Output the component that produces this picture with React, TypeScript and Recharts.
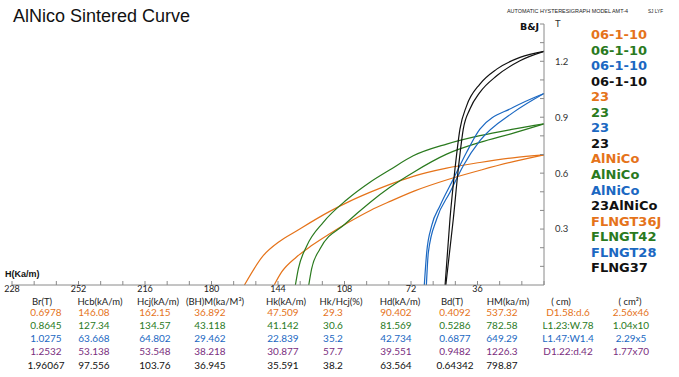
import React from 'react'
import { LineChart, Line, XAxis, YAxis } from 'recharts'

const orange = '#E5731A'
const green = '#2A7A1E'
const blue = '#1B68C2'
const purple = '#7A2E7E'
const black = '#111111'

// demag curves, [H kA/m, B T]
const orangeJ = [[162.15, 0], [152, 0.157], [143, 0.235], [134, 0.29], [116, 0.395], [105, 0.45], [94, 0.498], [83.4, 0.54], [70.8, 0.583], [52.7, 0.627], [34.7, 0.657], [16.8, 0.682], [0, 0.6978]]
const orangeB = [[146.08, 0], [142, 0.07], [134, 0.15], [126, 0.21], [116, 0.275], [106, 0.335], [94, 0.4], [83, 0.45], [70, 0.505], [52, 0.566], [34, 0.617], [16, 0.663], [0, 0.6978]]
const greenJ = [[134.57, 0], [133, 0.086], [128.5, 0.208], [119.5, 0.336], [106.8, 0.457], [94.2, 0.551], [83.4, 0.618], [70.8, 0.693], [52.7, 0.756], [34.7, 0.801], [16.6, 0.836], [0, 0.8645]]
const greenB = [[127.34, 0], [125.8, 0.086], [121.3, 0.193], [107.7, 0.327], [94.2, 0.443], [83.4, 0.524], [70.8, 0.604], [52.7, 0.702], [34.7, 0.765], [16.6, 0.815], [0, 0.8645]]
const blueJ = [[64.8, 0], [63.5, 0.175], [60.8, 0.318], [56.3, 0.425], [49.1, 0.568], [41.9, 0.712], [34.7, 0.836], [16.6, 0.953], [0, 1.0275]]
const blueB = [[63.668, 0], [62.6, 0.175], [58.1, 0.354], [50.9, 0.497], [43.7, 0.64], [34.7, 0.774], [16.6, 0.926], [0, 1.0275]]
const blackJ = [[53.548, 0], [50.9, 0.354], [48.2, 0.622], [45.5, 0.836], [41.9, 0.961], [34.7, 1.078], [25.6, 1.158], [13, 1.221], [0, 1.2532]]
const blackB = [[53.138, 0], [49.1, 0.354], [46.4, 0.622], [43.7, 0.836], [40.1, 0.944], [34.7, 1.033], [25.6, 1.122], [13, 1.203], [0, 1.2532]]

const curves = [
  { name: 'orangeJ', pts: orangeJ, color: orange },
  { name: 'orangeB', pts: orangeB, color: orange },
  { name: 'greenJ', pts: greenJ, color: green },
  { name: 'greenB', pts: greenB, color: green },
  { name: 'blueJ', pts: blueJ, color: blue },
  { name: 'blueB', pts: blueB, color: blue },
  { name: 'blackJ', pts: blackJ, color: black },
  { name: 'blackB', pts: blackB, color: black },
]

const xTicks = [0, 12, 24, 36, 48, 60, 72, 84, 96, 108, 120, 132, 144, 156, 168, 180, 192, 204, 216, 228, 240, 252, 264, 276, 288]
const yTicks = [0.1, 0.2, 0.3, 0.4, 0.5, 0.6, 0.7, 0.8, 0.9, 1.0, 1.1, 1.2, 1.3, 1.4]

const legendNames = ['06-1-10', '06-1-10', '06-1-10', '06-1-10', '23', '23', '23', '23', 'AlNiCo', 'AlNiCo', 'AlNiCo', '23AlNiCo', 'FLNGT36J', 'FLNGT42', 'FLNGT28', 'FLNG37']
const legendColors = [orange, green, blue, black]

const headers = ['Br(T)', 'Hcb(kA/m)', 'Hcj(kA/m)', '(BH)M(ka/M³)', 'Hk(kA/m)', 'Hk/Hcj(%)', 'Hd(kA/m)', 'Bd(T)', 'HM(ka/m)', '( cm)', '( cm²)']
const row1 = ['0.6978', '146.08', '162.15', '36.892', '47.509', '29.3', '90.402', '0.4092', '537.32', 'D1.58:d.6', '2.56x46']
const row2 = ['0.8645', '127.34', '134.57', '43.118', '41.142', '30.6', '81.569', '0.5286', '782.58', 'L1.23:W.78', '1.04x10']
const row3 = ['1.0275', '63.668', '64.802', '29.462', '22.839', '35.2', '42.734', '0.6877', '649.29', 'L1.47:W1.4', '2.29x5']
const row4 = ['1.2532', '53.138', '53.548', '38.218', '30.877', '57.7', '39.551', '0.9482', '1226.3', 'D1.22:d.42', '1.77x70']
const row5 = ['1.96067', '97.556', '103.76', '36.945', '35.591', '38.2', '63.564', '0.64342', '798.87', '', '']
const rows = [row1, row2, row3, row4, row5]
const rowColors = [orange, green, blue, purple, black]

const headerX = [42, 100, 158, 215, 286, 341, 400, 452, 508, 561, 630]
const colX = [46, 94, 155, 210, 283, 333, 396, 455, 502, 568, 631]

const fmtX = (v: number) => {
  if (v === 0 || v % 36 !== 0) return ''
  if (v === 288) return '228'
  return String(v)
}
const fmtY = (v: number) => {
  const r = Math.round(v * 10)
  if (r === 14) return 'T'
  if (r % 3 === 0) return v.toFixed(1)
  return ''
}

const axisGray = '#8a8a8a'
const tableFont = 'Lato, "Open Sans", sans-serif'

export default function App() {
  return (
    <div style={{ position: 'absolute', left: 0, top: 0, width: 679, height: 377, background: '#fff' }}>
      <LineChart width={679} height={377} margin={{ top: 24, right: 0, left: 12, bottom: 0 }}>
        <XAxis
          type="number"
          dataKey="h"
          domain={[0, 288]}
          reversed
          ticks={xTicks}
          interval={0}
          tickFormatter={fmtX}
          height={92}
          tickSize={-4}
          tickMargin={5}
          stroke={axisGray}
          tick={{ fill: '#222', fontSize: 9, fontFamily: tableFont }}
        />
        <YAxis
          type="number"
          orientation="right"
          domain={[0, 1.4]}
          ticks={yTicks}
          interval={0}
          tickFormatter={fmtY}
          width={135}
          tickSize={-4}
          tickMargin={15}
          stroke={axisGray}
          tick={{ fill: '#333', fontSize: 9.5, fontFamily: tableFont }}
        />
        {curves.map((c) => (
          <Line
            key={c.name}
            data={c.pts.map(([h, b]) => ({ h, b }))}
            dataKey="b"
            type="monotone"
            stroke={c.color}
            strokeWidth={1.2}
            dot={false}
            isAnimationActive={false}
          />
        ))}
      </LineChart>
      <svg width={679} height={377} style={{ position: 'absolute', left: 0, top: 0, pointerEvents: 'none' }}>
        <text x={13} y={22} fontFamily='"Liberation Sans", Arial, sans-serif' fontSize={18} fill="#111">
          AlNico Sintered Curve
        </text>
        <text x={507} y={13} fontFamily='"Liberation Sans", Arial, sans-serif' fontSize={5.8} fill="#222" textLength={121} lengthAdjust="spacingAndGlyphs">
          AUTOMATIC HYSTERESIGRAPH MODEL AMT-4
        </text>
        <text x={648} y={13} fontFamily='"Liberation Sans", Arial, sans-serif' fontSize={5.8} fill="#222" textLength={15} lengthAdjust="spacingAndGlyphs">
          SJ LYF
        </text>
        <text x={520} y={30} fontFamily='"DejaVu Sans", sans-serif' fontWeight="bold" fontSize={9.5} fill="#111">
          B&amp;J
        </text>
        <text x={5} y={277} fontFamily='"Liberation Sans", Arial, sans-serif' fontWeight="bold" fontSize={9} fill="#111">
          H(Ka/m)
        </text>
        {legendNames.map((n, i) => (
          <text key={i} x={591} y={39 + i * 15.55} fontFamily='"DejaVu Sans", sans-serif' fontWeight="bold" fontSize={13} fill={legendColors[i % 4]}>
            {n}
          </text>
        ))}
        {headers.map((h, i) => (
          <text key={h} x={headerX[i]} y={304.5} textAnchor="middle" fontFamily={tableFont} fontSize={9.5} fill="#222">
            {h}
          </text>
        ))}
        {rows.map((r, ri) =>
          r.map((v, ci) => (
            <text key={ri + '-' + ci} x={colX[ci]} y={315.5 + ri * 13.3} textAnchor="middle" fontFamily={tableFont} fontSize={10} fill={rowColors[ri]}>
              {v}
            </text>
          ))
        )}
      </svg>
    </div>
  )
}
